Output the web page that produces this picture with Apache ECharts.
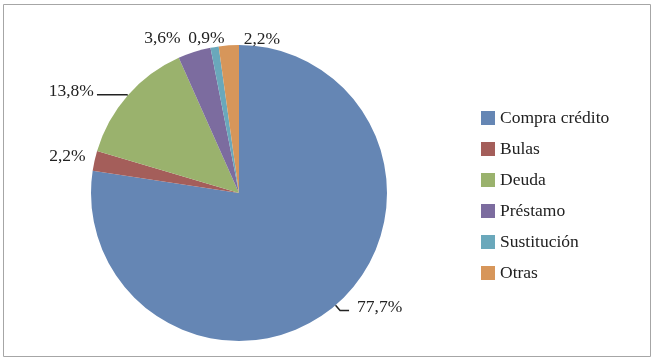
<!DOCTYPE html>
<html><head><meta charset="utf-8">
<script src="https://cdn.jsdelivr.net/npm/echarts@6/dist/echarts.min.js"></script>
<style>html,body{margin:0;padding:0;background:#fff}#c{width:655px;height:360px}</style>
</head><body><div id="c"></div>
<script>
const categories = ['Compra crédito', 'Bulas', 'Deuda', 'Préstamo', 'Sustitución', 'Otras'];
const values = [77.7, 2.2, 13.8, 3.6, 0.9, 2.2];
const labels = ['77,7%', '2,2%', '13,8%', '3,6%', '0,9%', '2,2%'];
const colors = ['#6586B4', '#A45E5A', '#9AB26D', '#7C6C9F', '#6AA8BB', '#D7965A'];
// style: label line lengths and label offsets per slice
const lineLen = [7, 3, 1, 12, 12, 10];
const lineLen2 = [9, 6, 30, 6, 6, 6];
const lineShow = [true, false, true, false, false, false];
const labelDx = [3, 5, 2, 1, 23, 63];
const labelDy = [-3, -4, -3, -2, 3, 4];

const chart = echarts.init(document.getElementById('c'));
chart.setOption({
  animation: false,
  color: colors,
  graphic: [{type:'rect', shape:{x:3.5, y:4.5, width:647, height:352}, style:{fill:'none', stroke:'#a6a6a6', lineWidth:1}}],
  legend: {
    orient: 'vertical', left: 476, top: 104,
    itemWidth: 14, itemHeight: 14, itemGap: 13, icon: 'rect',
    textStyle: {fontFamily: 'Liberation Serif', fontSize: 17.5, color: '#222'},
    data: categories
  },
  series: [{
    type: 'pie', center: [239, 193], radius: 148, startAngle: 90, clockwise: true,
    avoidLabelOverlap: false,
    itemStyle: {borderWidth: 0},
    label: {fontFamily: 'Liberation Serif', fontSize: 17.5, color: '#222'},
    labelLayout: function (p) { return {dx: labelDx[p.dataIndex], dy: labelDy[p.dataIndex]}; },
    data: categories.map((n, i) => ({
      name: n, value: values[i],
      label: {formatter: labels[i]},
      labelLine: {show: lineShow[i], length: lineLen[i], length2: lineLen2[i], lineStyle: {color: '#222', width: 1.5}}
    }))
  }]
});
</script></body></html>
